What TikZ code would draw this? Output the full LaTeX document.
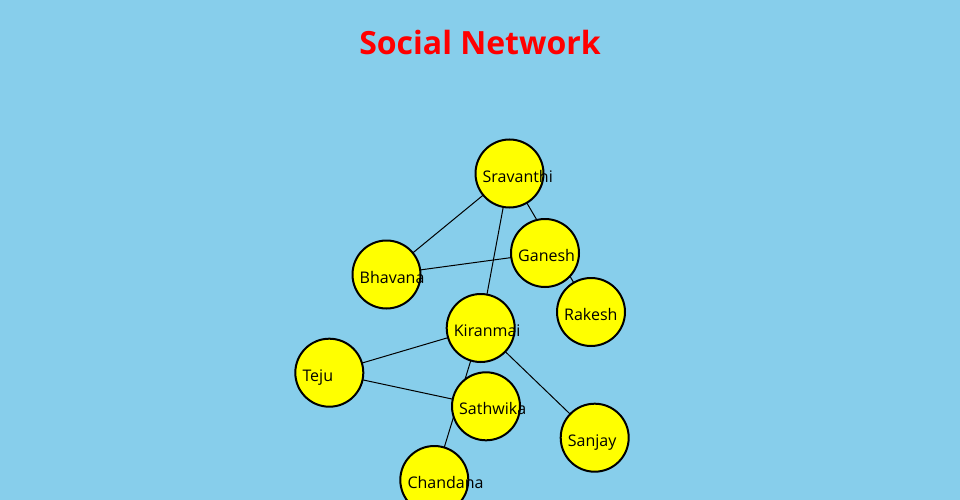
\documentclass[tikz,border=0pt]{standalone}
\usepackage{fontspec}
\setmainfont{Open Sans}
\usetikzlibrary{positioning}
\definecolor{skyblue}{RGB}{135,206,235}
\definecolor{nodeyellow}{RGB}{255,255,0}
\definecolor{titlered}{RGB}{255,0,0}
\tikzset{
  person/.style={circle,draw=black,fill=nodeyellow,line width=2pt,minimum size=68pt,inner sep=0pt},
  link/.style={draw=black,line width=1pt},
  nametext/.style={anchor=base west,inner sep=0pt,font=\fontsize{16}{19}\selectfont}
}
\begin{document}
\begin{tikzpicture}[x=1pt,y=-1pt]
\fill[skyblue] (0,0) rectangle (960,500);
\useasboundingbox (0,0) rectangle (960,500);

\node[anchor=base,text=titlered,inner sep=0pt,font=\bfseries\fontsize{32}{38}\selectfont]
  (title) at (480,54.3) {Social Network};

% centres first, the links run under the circles
\foreach \who/\x/\y in {Sravanthi/509.5/173.5,Ganesh/545/253,Bhavana/386.5/274.5,
  Rakesh/591/312,Kiranmai/480.7/328,Teju/329.3/372.7,Sathwika/486/406.3,
  Sanjay/594.7/437.7,Chandana/434.3/480}
  \coordinate (c\who) at (\x,\y);

\foreach \a/\b in {Sravanthi/Bhavana,Sravanthi/Rakesh,Sravanthi/Kiranmai,
  Bhavana/Ganesh,Kiranmai/Teju,Kiranmai/Sanjay,Kiranmai/Chandana,Teju/Sathwika}
  \draw[link] (c\a) -- (c\b);

\foreach \who in {Sravanthi,Ganesh,Bhavana,Rakesh,Kiranmai,Teju,Sathwika,Sanjay,Chandana}
  \node[person] (\who) at (c\who) {};

\foreach \who in {Sravanthi,Ganesh,Bhavana,Rakesh,Kiranmai,Teju,Sathwika,Sanjay,Chandana}
  \node[nametext,xshift=-27pt,yshift=-8.5pt] (t\who) at (\who.center) {\who};
\end{tikzpicture}
\end{document}
